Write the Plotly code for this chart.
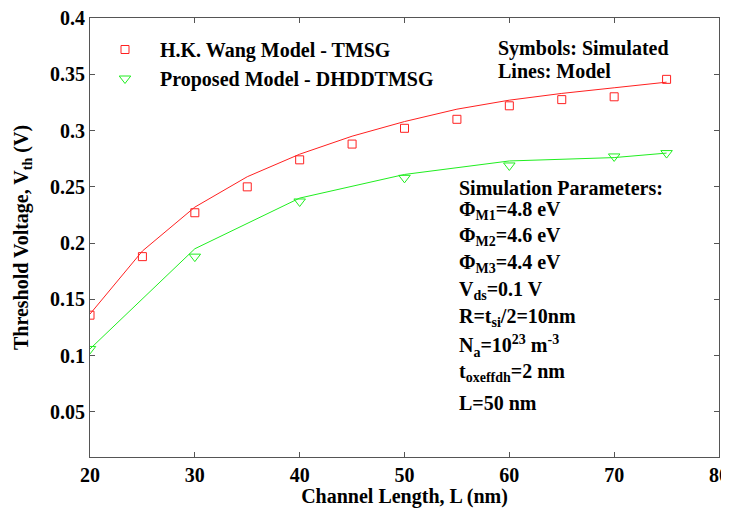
import plotly.graph_objects as go

# ---- data ----
L_sim_wang = [20, 25, 30, 35, 40, 45, 50, 55, 60, 65, 70, 75]
V_sim_wang = [0.136, 0.188, 0.227, 0.250, 0.274, 0.288, 0.302, 0.310, 0.322, 0.3275, 0.330, 0.3455]
L_mod_wang = [20, 25, 30, 35, 40, 45, 50, 55, 60, 65, 70, 75]
V_mod_wang = [0.137, 0.193, 0.232, 0.259, 0.279, 0.295, 0.308, 0.319, 0.327, 0.333, 0.338, 0.343]

L_sim_prop = [20, 30, 40, 50, 60, 70, 75]
V_sim_prop = [0.106, 0.188, 0.237, 0.258, 0.269, 0.277, 0.280]
L_mod_prop = [20, 30, 40, 50, 60, 70, 75]
V_mod_prop = [0.106, 0.195, 0.240, 0.261, 0.273, 0.276, 0.280]

x_ticks = [20, 30, 40, 50, 60, 70, 80]
y_ticks = [0.05, 0.1, 0.15, 0.2, 0.25, 0.3, 0.35, 0.4]
y_tick_labels = ["0.05", "0.1", "0.15", "0.2", "0.25", "0.3", "0.35", "0.4"]

legend_names = ["H.K. Wang Model - TMSG", "Proposed Model - DHDDTMSG"]
note_lines = ["Symbols: Simulated", "Lines: Model"]
param_lines = [
    "Simulation Parameters:",
    "Φ<sub>M1</sub>=4.8 eV",
    "Φ<sub>M2</sub>=4.6 eV",
    "Φ<sub>M3</sub>=4.4 eV",
    "V<sub>ds</sub>=0.1 V",
    "R=t<sub>si</sub>/2=10nm",
    "N<sub>a</sub>=10<sup>23</sup> m<sup>-3</sup>",
    "t<sub>oxeffdh</sub>=2 nm",
    "L=50 nm",
]

RED = "#ff2020"
GREEN = "#20ee20"
FONT = "Liberation Serif"

fig = go.Figure()
fig.add_trace(go.Scatter(x=L_mod_wang, y=V_mod_wang, mode="lines",
                         line=dict(color=RED, width=1), showlegend=False))
fig.add_trace(go.Scatter(x=L_mod_prop, y=V_mod_prop, mode="lines",
                         line=dict(color=GREEN, width=1), showlegend=False))
pad = "\u00a0\u00a0\u00a0"
fig.add_trace(go.Scatter(x=L_sim_wang, y=V_sim_wang, mode="markers",
                         name=pad + legend_names[0],
                         marker=dict(symbol="square-open", size=8, color=RED,
                                     line=dict(width=1))))
fig.add_trace(go.Scatter(x=L_sim_prop, y=V_sim_prop, mode="markers",
                         name=pad + legend_names[1],
                         marker=dict(symbol="triangle-down-open", size=10, color=GREEN,
                                     line=dict(width=1))))

# page offset (default body margin) and plot-area geometry in window pixels
OFF = 8
W, H = 729, 508 - OFF
L_PX, R_PX, T_PX, B_PX = 90, 719, 18, 457
def px_x(p):
    return (p - L_PX) / (R_PX - L_PX)
def px_y(p):
    return (B_PX - p) / (B_PX - T_PX)

annotations = []
note_y = [48, 71]
for txt, yy in zip(note_lines, note_y):
    annotations.append(dict(text=txt, x=px_x(496), y=px_y(yy), xref="paper", yref="paper",
                            xanchor="left", yanchor="middle", showarrow=False,
                            font=dict(family=FONT, size=20, color="black", weight="bold")))
param_y = [187, 208, 234, 261, 288, 315, 342, 370, 402]
for txt, yy in zip(param_lines, param_y):
    annotations.append(dict(text=txt, x=px_x(457), y=px_y(yy - 12), xref="paper", yref="paper",
                            xanchor="left", yanchor="top", showarrow=False,
                            font=dict(family=FONT, size=20, color="black", weight="bold")))

axis_common = dict(showline=True, linecolor="#555555", linewidth=1, mirror="ticks",
                   ticks="inside", ticklen=5, tickcolor="#555555", showgrid=False,
                   zeroline=False, automargin=False, ticklabeloverflow="allow",
                   tickfont=dict(family=FONT, size=20, color="black", weight="bold"))

fig.update_layout(
    width=W, height=H,
    margin=dict(l=L_PX - OFF, r=OFF + W - R_PX, t=T_PX - OFF, b=OFF + H - B_PX),
    paper_bgcolor="white", plot_bgcolor="white",
    font=dict(family=FONT, size=20, color="black", weight="bold"),
    xaxis=dict(range=[20, 80], tickvals=x_ticks,
               title=dict(text="Channel Length, L (nm)", standoff=4,
                          font=dict(family=FONT, size=20, weight="bold")),
               **axis_common),
    yaxis=dict(range=[0.01, 0.4], tickvals=y_ticks, ticktext=y_tick_labels,
               title=dict(text="Threshold Voltage, V<sub>th</sub> (V)", standoff=16,
                          font=dict(family=FONT, size=20, weight="bold")),
               **axis_common),
    legend=dict(x=px_x(105), y=px_y(30), xanchor="left", yanchor="top",
                bgcolor="rgba(0,0,0,0)", borderwidth=0, tracegroupgap=0,
                font=dict(family=FONT, size=20, color="black", weight="bold")),
    annotations=annotations,
    showlegend=True,
)

fig.write_html("out.html")
